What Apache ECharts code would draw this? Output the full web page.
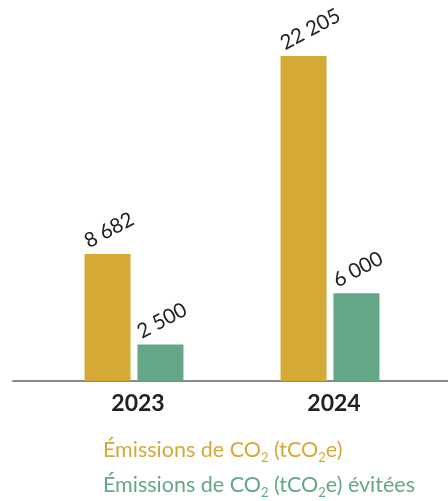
<!DOCTYPE html>
<html><head><meta charset="utf-8">
<script src="https://cdn.jsdelivr.net/npm/echarts@6/dist/echarts.min.js"></script>
<style>html,body{margin:0;padding:0;background:#fff}#c{width:448px;height:501px}</style>
</head><body><div id="c"></div>
<script>
const categories = ['2023', '2024'];
const emissions = [8682, 22205];
const avoided = [2500, 6000];
const seriesNames = ['Émissions de CO2 (tCO2e)', 'Émissions de CO2 (tCO2e) évitées'];
const GOLD = '#D4A935', GREEN = '#64A786';
const FONT = 'Lato';

function fmt(v){ return String(v).replace(/\B(?=(\d{3})+(?!\d))/g, ' '); }

const label = {
  show: true, position: 'top', rotate: 28, distance: 11,
  align: 'left', verticalAlign: 'bottom', offset: [-19, 0],
  color: '#222', fontSize: 20.5, fontFamily: FONT,
  formatter: p => fmt(p.value)
};

function legendFormatter(name) {
  const k = name === seriesNames[0] ? 'a' : 'b';
  const s = k + 's';
  const parts = name.split('CO2');
  return parts.map((t, i) => i === 0 ? `{${k}|${t}}` : `{${k}|CO}{${s}|2}{${k}|${t}}`).join('');
}
const legendRich = {
  a: {color: GOLD, fontSize: 21.5, fontFamily: FONT, lineHeight: 28},
  as: {color: GOLD, fontSize: 13, fontFamily: FONT, verticalAlign: 'bottom', lineHeight: 28},
  b: {color: GREEN, fontSize: 21.5, fontFamily: FONT, lineHeight: 28},
  bs: {color: GREEN, fontSize: 13, fontFamily: FONT, verticalAlign: 'bottom', lineHeight: 28}
};
function makeLegend(name, top) {
  return {
    orient: 'horizontal', left: 93, top: top,
    icon: 'none', itemWidth: 0, selectedMode: false,
    data: [name], formatter: legendFormatter,
    textStyle: {rich: legendRich}
  };
}

const chart = echarts.init(document.getElementById('c'), null, {renderer: 'canvas'});
chart.setOption({
  animation: false,
  grid: [
    {left: 36, right: 20, top: 15, bottom: 120},
    {left: 13, right: 0, top: 15, bottom: 120}
  ],
  xAxis: [
    {type: 'category', data: categories, gridIndex: 0,
     axisLine: {show: false}, axisTick: {show: false},
     axisLabel: {color: '#222', fontSize: 23, fontWeight: 'bold', fontFamily: FONT, margin: 11, padding: [0,0,0,8]}},
    {type: 'category', data: categories, gridIndex: 1,
     axisLine: {show: true, lineStyle: {color: '#888', width: 2}}, axisTick: {show: false}, axisLabel: {show: false}}
  ],
  yAxis: [
    {type: 'value', min: 0, max: 25000, gridIndex: 0, show: false},
    {type: 'value', min: 0, max: 25000, gridIndex: 1, show: false}
  ],
  legend: [makeLegend(seriesNames[0], 434), makeLegend(seriesNames[1], 469)],
  series: [
    {name: seriesNames[0], type: 'bar', data: emissions, barWidth: 46, barGap: '15%',
     itemStyle: {color: GOLD}, label: label},
    {name: seriesNames[1], type: 'bar', data: avoided, barWidth: 46, barGap: '15%',
     itemStyle: {color: GREEN}, label: label}
  ]
});
</script></body></html>
